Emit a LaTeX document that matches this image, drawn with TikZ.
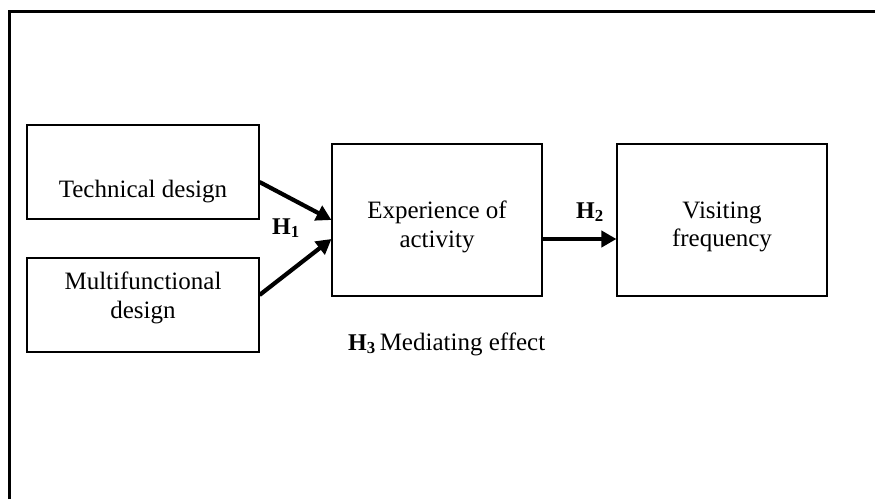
\documentclass[tikz,border=0pt]{standalone}
\usepackage{fontspec}
\setmainfont{Liberation Serif}
\usetikzlibrary{arrows.meta}
\begin{document}
\begin{tikzpicture}[x=1pt,y=-1pt,
  box/.style={draw=black, line width=1.1pt, minimum width=232pt, minimum height=94pt, inner sep=0pt},
  bigbox/.style={draw=black, line width=1.1pt, minimum width=210pt, minimum height=152pt, inner sep=0pt},
  txt/.style={font=\fontsize{25}{28.5}\selectfont, align=center, inner sep=0pt},
  hyp/.style={font=\fontsize{24}{28}\selectfont\bfseries, inner sep=0pt, anchor=base west},
  link/.style={line width=4.2pt, -{Triangle[length=15pt,width=16pt]}}]
\useasboundingbox (0,0) rectangle (875,499);
% outer frame
\draw[line width=3pt] (9.5,499) -- (9.5,11.3) -- (875,11.3);
% boxes
\node[box, label={[txt, yshift=-20pt]center:Technical design}] (tech) at (143,172) {};
\node[box, label={[txt, yshift=7pt]center:Multifunctional\\design}] (multi) at (143,305) {};
\node[bigbox, label={[txt, yshift=-7pt]center:Experience of\\activity}] (exp) at (437,220) {};
\node[bigbox, label={[txt, yshift=-7pt]center:Visiting\\frequency}] (visit) at (722,220) {};
% hypothesis labels
\node[hyp] (h1) at (272,234) {H\textsubscript{1}};
\node[hyp] (h2) at (576,218) {H\textsubscript{2}};
\node[hyp] (h3) at (348,350) {H\textsubscript{3}\,\mdseries\fontsize{25}{28}\selectfont Mediating effect};
% connectors
\draw[link] ([yshift=-10pt]tech.east) -- (exp.west);
\draw[link] ([yshift=10pt]multi.east) -- ([yshift=-19pt]exp.west);
\draw[link] ([yshift=-19pt]exp.east) -- ([yshift=-19pt]visit.west);
\end{tikzpicture}
\end{document}
